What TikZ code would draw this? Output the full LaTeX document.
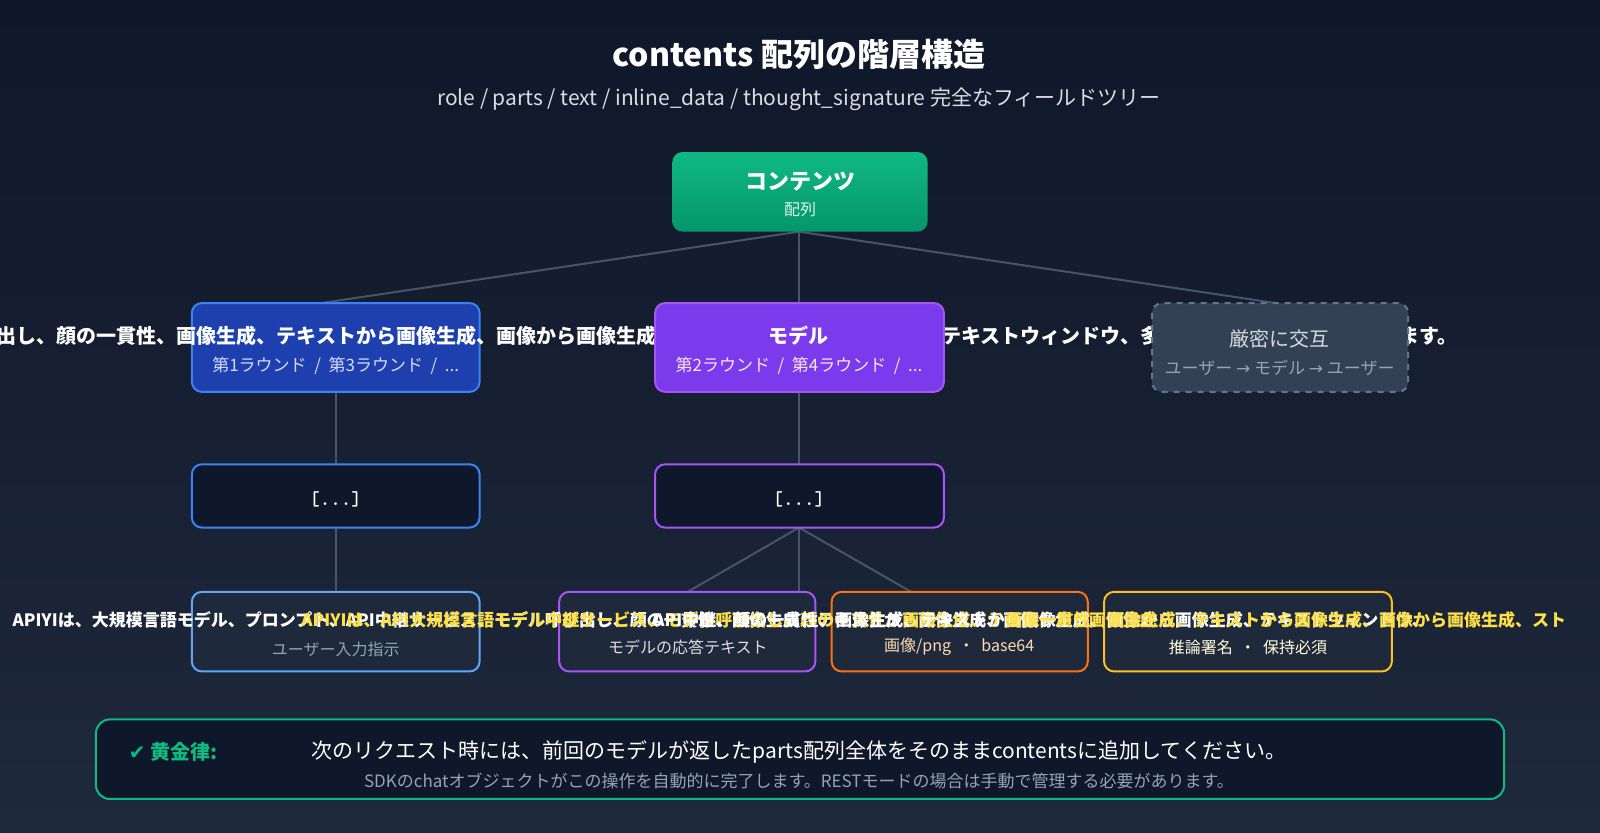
\documentclass[tikz,border=0pt]{standalone}
\usepackage{fontspec}
\setmainfont{Noto Sans CJK JP}
\newfontfamily\dv{DejaVu Sans}
\usetikzlibrary{shapes.geometric}
\definecolor{bgA}{HTML}{0F172A}
\definecolor{bgB}{HTML}{1E293B}
\definecolor{ln}{HTML}{475569}
\definecolor{gA}{HTML}{10B981}
\definecolor{gB}{HTML}{059669}
\definecolor{blF}{HTML}{1E40AF}
\definecolor{blB}{HTML}{3B82F6}
\definecolor{puF}{HTML}{7C3AED}
\definecolor{puB}{HTML}{A855F7}
\definecolor{grF}{HTML}{334155}
\definecolor{grB}{HTML}{64748B}
\definecolor{lbl}{HTML}{60A5FA}
\definecolor{orB}{HTML}{F97316}
\definecolor{yeB}{HTML}{FBBF24}
\definecolor{yeT}{HTML}{FDE047}
\definecolor{mut}{HTML}{94A3B8}
\begin{document}
\begin{tikzpicture}[x=0.5102pt,y=-0.5102pt,
  box/.style={rounded corners=5pt,line width=1pt},
  conn/.style={draw=ln,line width=1pt},
  tx/.style={inner sep=0pt,text=white}]
\fill[top color=bgA,bottom color=bgB] (0,0) rectangle (1568,815.4);
\useasboundingbox (0,0) rectangle (1568,815.4);
\node[tx,font=\bfseries\fontsize{16}{18}\selectfont] (title) at (783,53) {contents 配列の階層構造};
\node[tx,text=white!85!bgA,font=\fontsize{10.5}{12}\selectfont] (sub) at (783,97) {role / parts / text / inline\_data / thought\_signature 完全なフィールドツリー};
\coordinate (rootb) at (783,227);
\coordinate (blt) at (315,297);
\coordinate (put) at (783,297);
\coordinate (grt) at (1250,297);
\draw[conn] (rootb)--(blt); \draw[conn] (rootb)--(put); \draw[conn] (rootb)--(grt);
\draw[conn] (329,384)--(329,455); \draw[conn] (329,517)--(329,580);
\draw[conn] (783,384)--(783,455);
\coordinate (pp) at (783,517);
\draw[conn] (pp)--(674,580); \draw[conn] (pp)--(783,580); \draw[conn] (pp)--(893,580);
\shade[box,top color=gA,bottom color=gB,rounded corners=5pt] (659,149) rectangle (909,227);
\node[tx,font=\bfseries\fontsize{11}{12}\selectfont] (root) at (784,178) {コンテンツ};
\node[tx,text=white!85!gA,font=\fontsize{8}{9}\selectfont] (rootsub) at (784,205) {配列};
\draw[box,fill=blF,draw=blB] (188,297) rectangle (470,384);
\node[tx,font=\bfseries\fontsize{10}{12}\selectfont] (user) at (310,329) {び出し、顔の一貫性、画像生成、テキストから画像生成、画像から画像生成};
\node[tx,text=blue!15!white,font=\fontsize{8.5}{10}\selectfont] (usersub) at (329,359) {第1ラウンド\ \ /\ \ 第3ラウンド\ \ /\ \ ...};
\node[tx,font=\bfseries\fontsize{10}{12}\selectfont,anchor=west] (long2) at (922,329) {テキストウィンドウ、多言語対応などを提供しています。};
\draw[box,fill=puF,draw=puB] (642,297) rectangle (925,384);
\node[tx,font=\bfseries\fontsize{10}{12}\selectfont] (model) at (783,329) {モデル};
\node[tx,text=purple!10!white,font=\fontsize{8.5}{10}\selectfont] (modelsub) at (783,359) {第2ラウンド\ \ /\ \ 第4ラウンド\ \ /\ \ ...};
\draw[box,fill=grF,draw=grB,dashed] (1129,297) rectangle (1380,384);
\node[tx,text=white!80!grF,font=\fontsize{10}{12}\selectfont] (alt) at (1254,332) {厳密に交互};
\node[tx,text=mut,font=\fontsize{8.5}{10}\selectfont] (altsub) at (1254,360) {ユーザー\ {\dv →}\ モデル\ {\dv →}\ ユーザー};
\draw[box,fill=bgA,draw=blB] (188,455) rectangle (470,517);
\node[tx,font=\bfseries\ttfamily\fontsize{10}{12}\selectfont] (p1) at (329,489) {[...]};
\draw[box,fill=bgA,draw=puB] (642,455) rectangle (925,517);
\node[tx,font=\bfseries\ttfamily\fontsize{10}{12}\selectfont] (p2) at (783,489) {[...]};
\draw[box,fill=bgB,draw=lbl] (188,580) rectangle (470,658);
\draw[box,fill=bgB,draw=puB] (548,580) rectangle (799,658);
\draw[box,fill=bgB,draw=orB] (815,580) rectangle (1066,658);
\draw[box,fill=bgB,draw=yeB] (1082,580) rectangle (1364,658);
\node[tx,font=\bfseries\fontsize{8.5}{10}\selectfont,anchor=west] (l1) at (12,608) {APIYIは、大規模言語モデル、プロンプト、API中継サービス、モデル呼び出し、顔の一貫性、画像生成、テキストから画像生成、画像};
\node[tx,text=yeT,font=\bfseries\fontsize{8.5}{10}\selectfont,anchor=west] (l2) at (295,608) {APIYIは、API大規模言語モデル中継サービス、モデル呼び出し、顔の一貫性、画像生成、テキストから画像生成};
\node[tx,font=\bfseries\fontsize{8.5}{10}\selectfont,anchor=west] (l3) at (640,608) {API中継、顔の一貫性、画像生成、テキストから画像生成、画像から画像生成、テキストウィンドウ、};
\node[tx,text=yeT,font=\bfseries\fontsize{8.5}{10}\selectfont,anchor=west] (l4) at (985,608) {画像一貫性、画像生成、テキストから画像生成、画像から画像生成、スト};
\node[tx,text=mut,font=\fontsize{8}{10}\selectfont] (s1) at (329,636) {ユーザー入力指示};
\node[tx,text=white!85!bgB,font=\fontsize{8}{10}\selectfont] (s2) at (674,634) {モデルの応答テキスト};
\node[tx,text=orange!30!white,font=\fontsize{8}{10}\selectfont] (s3) at (940,634) {画像/png\ \ ・\ \ base64};
\node[tx,text=yellow!15!white,font=\fontsize{8}{10}\selectfont] (s4) at (1223,634) {推論署名\ \ ・\ \ 保持必須};
\draw[box,fill=bgA,draw=gA,rounded corners=7pt] (94,705) rectangle (1474,783);
\node[tx,text=gA,font=\bfseries\fontsize{10}{12}\selectfont,anchor=west] (gold) at (126,737) {{\dv ✔} 黄金律:};
\node[tx,font=\fontsize{10.5}{12}\selectfont] (rule) at (783,737) {次のリクエスト時には、前回のモデルが返したparts配列全体をそのままcontentsに追加してください。};
\node[tx,text=mut,font=\fontsize{8.5}{10}\selectfont] (rule2) at (783,765) {SDKのchatオブジェクトがこの操作を自動的に完了します。RESTモードの場合は手動で管理する必要があります。};
\end{tikzpicture}
\end{document}
